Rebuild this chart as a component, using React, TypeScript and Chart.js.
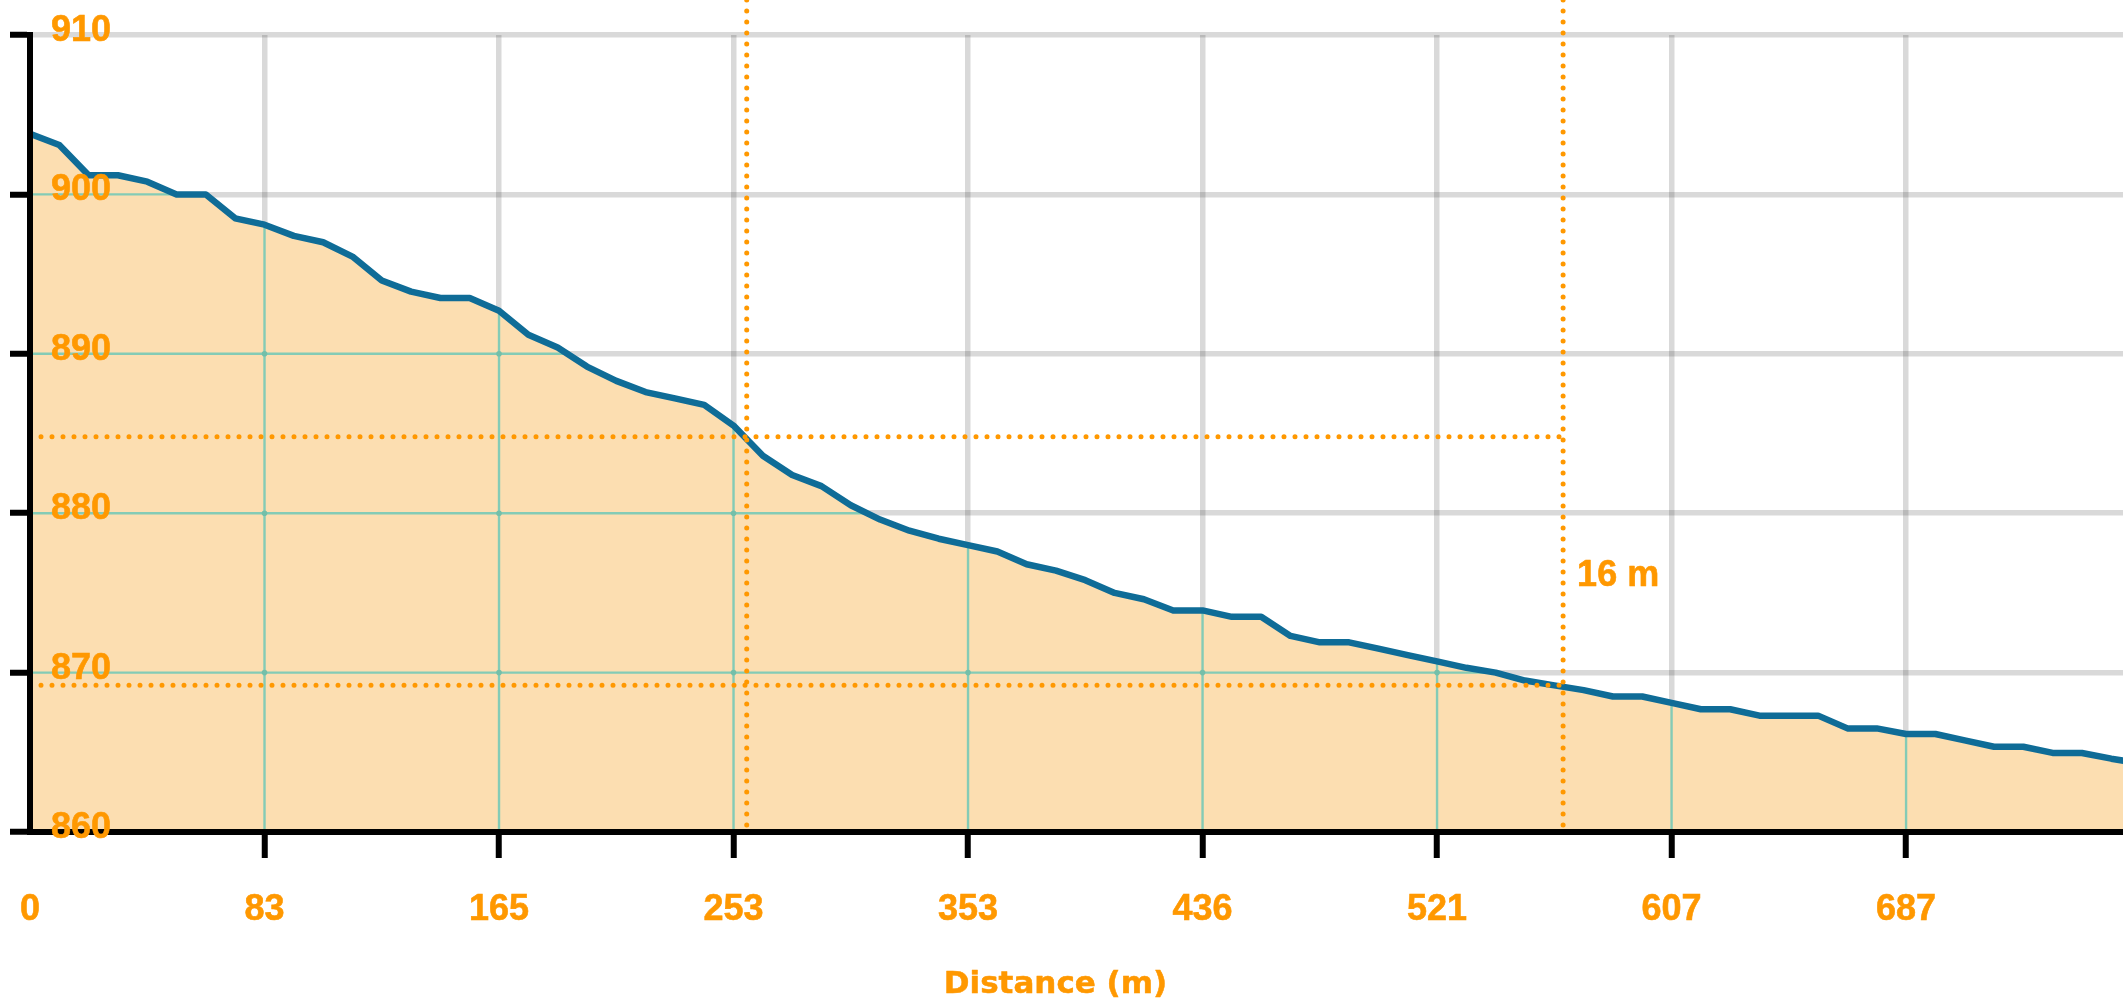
import React, { useEffect, useRef } from 'react';
import { Chart, registerables } from 'chart.js';

Chart.register(...registerables);

// ---- data ----
const elevations: number[] = [
  903.8, 903.1, 901.2, 901.2, 900.8, 900.0, 900.0, 898.5, 898.1, 897.4,
  897.0, 896.1, 894.6, 893.9, 893.5, 893.5, 892.7, 891.2, 890.4, 889.2,
  888.3, 887.6, 887.2, 886.8, 885.5, 883.6, 882.4, 881.7, 880.5, 879.6,
  878.9, 878.4, 878.0, 877.6, 876.8, 876.4, 875.8, 875.0, 874.6, 873.9,
  873.9, 873.5, 873.5, 872.3, 871.9, 871.9, 871.5, 871.1, 870.7, 870.3,
  870.0, 869.5, 869.2, 868.9, 868.5, 868.5, 868.1, 867.7, 867.7, 867.3,
  867.3, 867.3, 866.5, 866.5, 866.15, 866.15, 865.75, 865.35, 865.35, 864.96,
  864.96, 864.6, 864.3,
];
const xTickIndices: number[] = [0, 8, 16, 24, 32, 40, 48, 56, 64];
const xTickLabels: string[] = ['0', '83', '165', '253', '353', '436', '521', '607', '687'];
const xMaxIndex = 71.4;
const yMin = 860;
const yMax = 910;
const yStep = 10;
const markerIndices: number[] = [24.45, 52.3];
const markerElevations: number[] = [884.8, 869.2];
const markerLabel = '16 m';
const xAxisTitle = 'Distance (m)';

// ---- styles ----
const ORANGE = '#FF9800';
const LINE = '#0f6c97';
const FILL = '#FCDEB1';
const TEAL = '#84cbb6';
const GRID = 'rgba(0,0,0,0.15)';
const FONT = "'Liberation Sans', Arial, Helvetica, sans-serif";
const TITLE_FONT = "'DejaVu Sans', Verdana, sans-serif";

const innerGrid = {
  id: 'innerGrid',
  beforeDatasetDraw(chart: any) {
    const { ctx, chartArea: a, scales } = chart;
    const xs = scales.x;
    const ys = scales.y;
    const pts = chart.getDatasetMeta(0).data;
    if (!pts || !pts.length) return;
    ctx.save();
    ctx.beginPath();
    ctx.rect(a.left, a.top, a.right - a.left, a.bottom - a.top);
    ctx.clip();
    ctx.beginPath();
    ctx.moveTo(pts[0].x, a.bottom);
    pts.forEach((p: any) => ctx.lineTo(p.x, p.y));
    ctx.lineTo(pts[pts.length - 1].x, a.bottom);
    ctx.closePath();
    ctx.clip();
    ctx.strokeStyle = TEAL;
    ctx.lineWidth = 2.4;
    const vx = xTickIndices.filter((v) => v > 0).map((v) => xs.getPixelForValue(v));
    const hy = ys.ticks
      .map((t: any) => t.value)
      .filter((v: number) => v > yMin && v < yMax)
      .map((v: number) => ys.getPixelForValue(v));
    vx.forEach((px: number) => {
      ctx.beginPath();
      ctx.moveTo(px, a.top);
      ctx.lineTo(px, a.bottom);
      ctx.stroke();
    });
    hy.forEach((py: number) => {
      ctx.beginPath();
      ctx.moveTo(a.left, py);
      ctx.lineTo(a.right, py);
      ctx.stroke();
    });
    ctx.fillStyle = '#74bfa9';
    vx.forEach((px: number) => {
      hy.forEach((py: number) => {
        ctx.beginPath();
        ctx.arc(px, py, 2.8, 0, Math.PI * 2);
        ctx.fill();
      });
    });
    ctx.restore();
  },
};

const markers = {
  id: 'markers',
  afterDatasetsDraw(chart: any) {
    const { ctx, chartArea: a, scales } = chart;
    const px = markerIndices.map((v) => scales.x.getPixelForValue(v));
    const py = markerElevations.map((v) => scales.y.getPixelForValue(v));
    const xEnd = Math.max(...px);
    ctx.save();
    ctx.strokeStyle = ORANGE;
    ctx.lineWidth = 5;
    ctx.lineCap = 'round';
    ctx.setLineDash([0, 11]);
    px.forEach((x) => {
      ctx.beginPath();
      ctx.moveTo(x, 0);
      ctx.lineTo(x, a.bottom);
      ctx.stroke();
    });
    py.forEach((y) => {
      ctx.beginPath();
      ctx.moveTo(a.left, y);
      ctx.lineTo(xEnd, y);
      ctx.stroke();
    });
    ctx.setLineDash([]);
    ctx.fillStyle = ORANGE;
    ctx.font = `bold 36px ${FONT}`;
    ctx.textAlign = 'left';
    ctx.textBaseline = 'alphabetic';
    ctx.lineWidth = 0.6;
    ctx.lineJoin = 'round';
    const tx = xEnd + 14;
    const ty = (py[0] + py[1]) / 2 + 25;
    ctx.fillText(markerLabel, tx, ty);
    ctx.strokeText(markerLabel, tx, ty);
    ctx.restore();
  },
};

const axisTitle = {
  id: 'axisTitle',
  afterDraw(chart: any) {
    const { ctx, chartArea: a } = chart;
    ctx.save();
    ctx.fillStyle = ORANGE;
    ctx.strokeStyle = ORANGE;
    ctx.lineWidth = 0.5;
    ctx.lineJoin = 'round';
    ctx.font = `bold 31px ${TITLE_FONT}`;
    ctx.textAlign = 'center';
    ctx.textBaseline = 'alphabetic';
    const cx = (a.left + a.right) / 2 - 21;
    ctx.fillText(xAxisTitle, cx, 993);
    ctx.strokeText(xAxisTitle, cx, 993);
    ctx.restore();
  },
};

export default function App() {
  const ref = useRef<HTMLCanvasElement>(null);

  useEffect(() => {
    if (!ref.current) return;
    const points = elevations.map((v, i) => ({ x: i, y: v }));
    const chart = new Chart(ref.current, {
      type: 'line',
      data: {
        datasets: [
          {
            data: points as any,
            borderColor: LINE,
            borderWidth: 6.5,
            backgroundColor: FILL,
            fill: 'start',
            pointRadius: 0,
            tension: 0,
            borderJoinStyle: 'round',
            borderCapStyle: 'round',
          },
        ],
      },
      options: {
        animation: false,
        responsive: false,
        devicePixelRatio: 1,
        layout: { padding: { top: 35, left: 0, right: 0, bottom: 0 }, autoPadding: false },
        plugins: {
          legend: { display: false },
          tooltip: { enabled: false },
        },
        scales: {
          x: {
            type: 'linear',
            min: 0,
            max: xMaxIndex,
            afterBuildTicks: (s: any) => {
              s.ticks = xTickIndices.map((v) => ({ value: v }));
            },
            afterFit: (s: any) => {
              s.height = 169;
              s.paddingLeft = 0;
              s.paddingRight = 0;
            },
            ticks: {
              autoSkip: false,
              maxRotation: 0,
              minRotation: 0,
              padding: 30,
              color: ORANGE,
              textStrokeColor: ORANGE,
              textStrokeWidth: 0.6,
              font: { family: FONT, size: 36, weight: 'bold' },
              callback: (v: any) => {
                const k = xTickIndices.indexOf(Number(v));
                return k >= 0 ? xTickLabels[k] : '';
              },
              z: 1,
            } as any,
            grid: {
              color: (c: any) => (c.tick && c.tick.value === 0 ? 'rgba(0,0,0,0)' : GRID),
              lineWidth: 5.5,
              tickLength: 26,
              tickWidth: 6,
              tickColor: (c: any) => (c.tick && c.tick.value === 0 ? 'rgba(0,0,0,0)' : '#000'),
            } as any,
            border: { color: '#000', width: 6, z: 1 } as any,
          },
          y: {
            min: yMin,
            max: yMax,
            afterFit: (s: any) => {
              s.width = 30;
              s.paddingTop = 0;
              s.paddingBottom = 0;
            },
            ticks: {
              stepSize: yStep,
              mirror: true,
              padding: 21,
              labelOffset: -4,
              color: ORANGE,
              textStrokeColor: ORANGE,
              textStrokeWidth: 0.6,
              font: { family: FONT, size: 36, weight: 'bold' },
              z: 1,
            } as any,
            grid: {
              color: GRID,
              lineWidth: 5.5,
              tickLength: 20,
              tickWidth: 6,
              tickColor: '#000',
            } as any,
            border: { color: '#000', width: 6, z: 1 } as any,
          },
        },
      },
      plugins: [innerGrid, markers, axisTitle],
    });
    return () => chart.destroy();
  }, []);

  return (
    <div style={{ position: 'fixed', left: 0, top: 0, width: 2123, height: 1001, background: '#fff' }}>
      <canvas ref={ref} width={2123} height={1001} style={{ display: 'block', width: 2123, height: 1001 }} />
    </div>
  );
}
